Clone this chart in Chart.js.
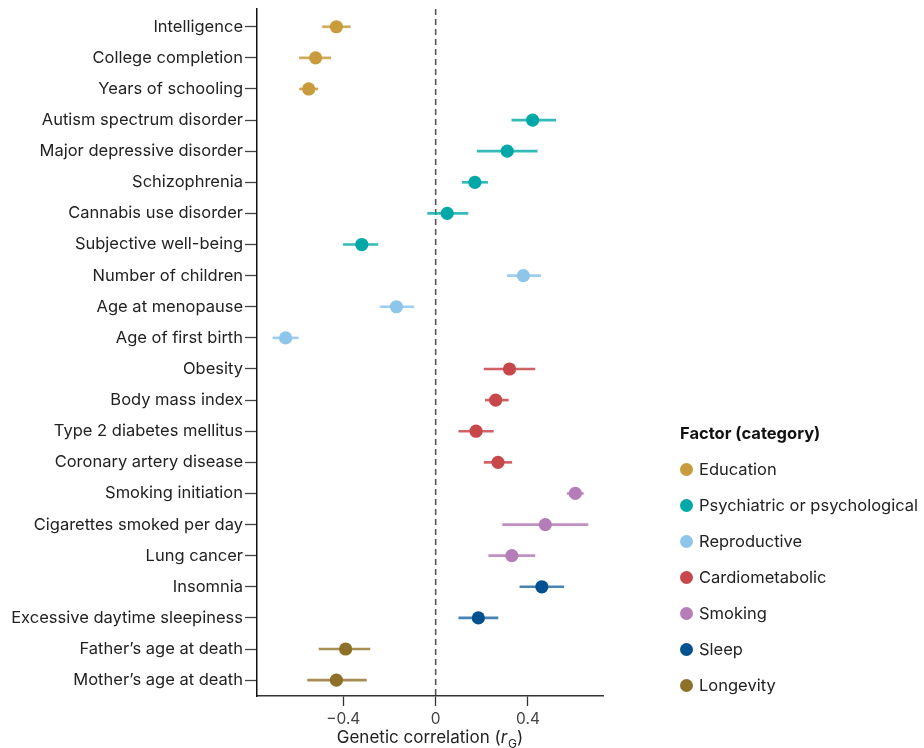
<!DOCTYPE html>
<html>
<head>
<meta charset="utf-8">
<script src="https://cdn.jsdelivr.net/npm/chart.js@4.4.0/dist/chart.umd.min.js"></script>
<style>
  html, body { margin: 0; padding: 0; background: #ffffff; }
  #wrap { position: relative; width: 924px; height: 748px; overflow: hidden; }
  #c { position: absolute; left: 0; top: 0; }
  #legend { position: absolute; left: 680px; top: 415px; font-family: Inter, "Noto Sans", sans-serif; font-size: 16.5px; color: #222; white-space: nowrap; }
  #legend .ttl { height: 36px; line-height: 36px; font-weight: 700; color: #111; }
  #legend .row { height: 36px; display: flex; align-items: center; }
  #legend .dot { width: 13px; height: 13px; border-radius: 50%; margin-right: 6px; flex: none; }
</style>
</head>
<body>
<div id="wrap">
  <canvas id="c" width="924" height="748"></canvas>
  <div id="legend"></div>
</div>
<script>
// ---- data ----
const traits = [
  'Intelligence', 'College completion', 'Years of schooling',
  'Autism spectrum disorder', 'Major depressive disorder', 'Schizophrenia',
  'Cannabis use disorder', 'Subjective well-being',
  'Number of children', 'Age at menopause', 'Age of first birth',
  'Obesity', 'Body mass index', 'Type 2 diabetes mellitus', 'Coronary artery disease',
  'Smoking initiation', 'Cigarettes smoked per day', 'Lung cancer',
  'Insomnia', 'Excessive daytime sleepiness',
  'Father\u2019s age at death', 'Mother\u2019s age at death'
];
const traitCategory = [
  0, 0, 0,
  1, 1, 1, 1, 1,
  2, 2, 2,
  3, 3, 3, 3,
  4, 4, 4,
  5, 5,
  6, 6
];
const rg = [
  -0.43, -0.52, -0.55,
  0.42, 0.31, 0.17, 0.05, -0.32,
  0.38, -0.17, -0.65,
  0.32, 0.26, 0.175, 0.27,
  0.605, 0.475, 0.33,
  0.46, 0.185,
  -0.39, -0.43
];
const ciLow = [
  -0.49, -0.59, -0.59,
  0.33, 0.18, 0.115, -0.035, -0.40,
  0.31, -0.24, -0.705,
  0.21, 0.215, 0.10, 0.21,
  0.57, 0.29, 0.23,
  0.365, 0.10,
  -0.505, -0.555
];
const ciHigh = [
  -0.37, -0.455, -0.51,
  0.52, 0.44, 0.225, 0.14, -0.25,
  0.455, -0.095, -0.595,
  0.43, 0.315, 0.25, 0.33,
  0.64, 0.66, 0.43,
  0.555, 0.27,
  -0.285, -0.30
];
const categories = ['Education', 'Psychiatric or psychological', 'Reproductive', 'Cardiometabolic', 'Smoking', 'Sleep', 'Longevity'];
const categoryColors = ['#C89B3C', '#00A9A8', '#8DC6EA', '#C8474B', '#B57DB8', '#00518F', '#8E7128'];
const categoryLineColors = ['rgba(200,155,60,0.85)', 'rgba(0,169,168,0.8)', 'rgba(141,198,234,0.85)', 'rgba(200,71,75,0.85)', 'rgba(181,125,184,0.85)', 'rgba(40,110,165,0.85)', 'rgba(142,113,40,0.8)'];
const xTickValues = [-0.4, 0, 0.4];
const xTitle = ['Genetic correlation (', 'r', 'G', ')'];
const legendTitle = 'Factor (category)';

// ---- build ----
const FONT = 'Inter, "Noto Sans", sans-serif';
const pointData = traits.map((t, i) => ({ x: rg[i], y: i }));
const ciData = traits.map((t, i) => ({ x: [ciLow[i], ciHigh[i]], y: i }));
const pointColors = traitCategory.map(c => categoryColors[c]);
const lineColors = traitCategory.map(c => categoryLineColors[c]);

const yMin = -0.57, yMax = 21.51;

const xTitlePlugin = {
  id: 'xTitle',
  afterDraw(chart) {
    const ctx = chart.ctx;
    const area = chart.chartArea;
    const cx = (area.left + area.right) / 2;
    const y = 738;
    ctx.save();
    ctx.fillStyle = '#222';
    ctx.textBaseline = 'middle';
    ctx.textAlign = 'left';
    const fN = '17px ' + FONT, fI = 'italic 17px ' + FONT, fS = '12px ' + FONT;
    ctx.font = fN; const w0 = ctx.measureText(xTitle[0]).width; const w3 = ctx.measureText(xTitle[3]).width;
    ctx.font = fI; const w1 = ctx.measureText(xTitle[1]).width;
    ctx.font = fS; const w2 = ctx.measureText(xTitle[2]).width;
    let x = cx - (w0 + w1 + w2 + w3 + 1) / 2;
    ctx.font = fN; ctx.fillText(xTitle[0], x, y); x += w0;
    ctx.font = fI; ctx.fillText(xTitle[1], x, y); x += w1 + 1;
    ctx.font = fS; ctx.fillText(xTitle[2], x, y + 6); x += w2;
    ctx.font = fN; ctx.fillText(xTitle[3], x, y);
    ctx.restore();
  }
};

new Chart(document.getElementById('c'), {
  type: 'bar',
  data: {
    datasets: [
      {
        type: 'line',
        data: [{ x: 0, y: yMin }, { x: 0, y: yMax }],
        borderColor: '#555',
        borderWidth: 1.6,
        borderDash: [6, 4],
        pointRadius: 0,
        fill: false,
        order: 3
      },
      {
        type: 'bar',
        data: ciData,
        backgroundColor: lineColors,
        borderWidth: 0,
        barThickness: 2,
        grouped: false,
        order: 2
      },
      {
        type: 'scatter',
        data: pointData,
        backgroundColor: pointColors,
        pointBackgroundColor: pointColors,
        pointBorderWidth: 0,
        pointRadius: 6.6,
        order: 1
      }
    ]
  },
  options: {
    indexAxis: 'y',
    responsive: false,
    animation: false,
    devicePixelRatio: 1,
    layout: { padding: { top: 9, right: 321, left: 0, bottom: 0 } },
    plugins: { legend: { display: false }, tooltip: { enabled: false } },
    scales: {
      x: {
        type: 'linear',
        position: 'bottom',
        min: -0.774,
        max: 0.725,
        offset: false,
        afterBuildTicks(scale) { scale.ticks = xTickValues.map(v => ({ value: v })); },
        afterFit(scale) { scale.height = 52; scale.paddingLeft = 0; scale.paddingRight = 0; },
        ticks: {
          font: { family: FONT, size: 15.5 },
          color: '#444',
          padding: 4,
          callback(v) { return v === 0 ? '0' : (v < 0 ? '\u2212' : '') + Math.abs(v).toFixed(1); }
        },
        grid: { display: true, offset: false, drawOnChartArea: false, drawTicks: true, tickLength: 10, tickColor: '#333', tickWidth: 1.3 },
        border: { display: true, color: '#333', width: 1.5 }
      },
      y: {
        type: 'linear',
        reverse: true,
        offset: false,
        min: yMin,
        max: yMax,
        afterBuildTicks(scale) { scale.ticks = traits.map((t, i) => ({ value: i })); },
        afterFit(scale) { scale.width = 257; scale.paddingTop = 0; scale.paddingBottom = 0; },
        ticks: {
          font: { family: FONT, size: 16.5 },
          color: '#222',
          padding: 2,
          autoSkip: false,
          callback(v) { return traits[Math.round(v)]; }
        },
        grid: { display: true, offset: false, drawOnChartArea: false, drawTicks: true, tickLength: 12, tickColor: '#444', tickWidth: 1.3 },
        border: { display: true, color: '#111', width: 1.5 }
      }
    }
  },
  plugins: [xTitlePlugin]
});

// legend (HTML)
const lg = document.getElementById('legend');
const tt = document.createElement('div'); tt.className = 'ttl'; tt.textContent = legendTitle; lg.appendChild(tt);
categories.forEach((c, i) => {
  const r = document.createElement('div'); r.className = 'row';
  const d = document.createElement('span'); d.className = 'dot'; d.style.background = categoryColors[i];
  const s = document.createElement('span'); s.textContent = c;
  r.appendChild(d); r.appendChild(s); lg.appendChild(r);
});
</script>
</body>
</html>
